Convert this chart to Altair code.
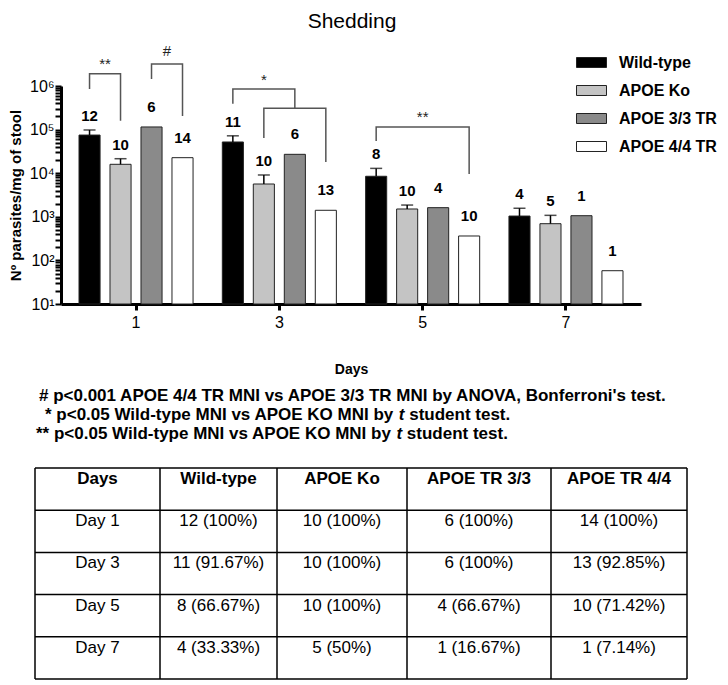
import altair as alt
import pandas as pd

FONT = "Liberation Sans, Arial, Helvetica, sans-serif"

# ---------------- data ----------------
days = ["1", "3", "5", "7"]
groups = ["Wild-type", "APOE Ko", "APOE 3/3 TR", "APOE 4/4 TR"]
group_colors = ["#000000", "#c4c4c4", "#8a8a8a", "#ffffff"]

# mean parasites / mg of stool (per day 1, 3, 5, 7)
wt_mean = [75000, 52000, 8500, 1040]
ko_mean = [16000, 5650, 1510, 695]
tr33_mean = [115000, 27100, 1620, 1060]
tr44_mean = [22700, 1410, 363, 58]
# upper end of the error bars (None = no error bar)
wt_upper = [98000, 72000, 12900, 1570]
ko_upper = [21500, 9100, 1860, 1080]
tr33_upper = [None, None, None, None]
tr44_upper = [None, None, None, None]
# number of animals shedding
n_wt = [12, 11, 8, 4]
n_ko = [10, 10, 10, 5]
n_33 = [6, 6, 4, 1]
n_44 = [14, 13, 10, 1]

y_ticks = [k * 10 ** e for e in range(1, 6) for k in range(1, 10)] + [10 ** 6]

# significance brackets: day, left bar, right bar, top, left-leg end, right-leg end
br_label = ["**", "#", "*", "", "**"]
br_day = ["1", "1", "3", "3", "5"]
br_left = ["Wild-type", "APOE 3/3 TR", "Wild-type", "APOE Ko", "Wild-type"]
br_right = ["APOE Ko", "APOE 4/4 TR", "APOE 3/3 TR", "APOE 4/4 TR", "APOE 4/4 TR"]
br_top = [1.9e6, 3.2e6, 8.5e5, 3.1e5, 1.15e5]
br_lbot = [8.5e5, 1.45e6, 3.9e5, 6.4e4, 5.5e4]
br_rbot = [1.6e5, 2.05e5, 3.1e5, 1.8e4, 9.6e3]
br_text_y = [3.2e6, 6.4e6, 1.37e6, None, 1.95e5]
br_text_at = ["Wild-type", "APOE 3/3 TR", "APOE Ko", None, "APOE Ko"]
br_text_between = [True, True, False, None, True]

footnote1 = "# p<0.001 APOE 4/4 TR MNI vs APOE 3/3 TR MNI by ANOVA, Bonferroni's test."
footnote2 = ["* p<0.05 Wild-type MNI vs APOE KO MNI by", "t", "student test."]
footnote3 = ["** p<0.05 Wild-type MNI vs APOE KO MNI by", "t", "student test."]

table_header = ["Days", "Wild-type", "APOE Ko", "APOE TR 3/3", "APOE TR 4/4"]
table_days = ["Day 1", "Day 3", "Day 5", "Day 7"]
pct_wt = ["100%", "91.67%", "66.67%", "33.33%"]
pct_ko = ["100%", "100%", "100%", "50%"]
pct_33 = ["100%", "100%", "66.67%", "16.67%"]
pct_44 = ["100%", "92.85%", "71.42%", "7.14%"]

# ---------------- tables for the library ----------------
means = [wt_mean, ko_mean, tr33_mean, tr44_mean]
uppers = [wt_upper, ko_upper, tr33_upper, tr44_upper]
counts = [n_wt, n_ko, n_33, n_44]
rows = []
for gi, g in enumerate(groups):
    for di, d in enumerate(days):
        rows.append(dict(Day=d, Group=g, mean=means[gi][di], upper=uppers[gi][di],
                         n=str(counts[gi][di])))
df = pd.DataFrame(rows)
df_err = df[df["upper"].notna()].copy()
df_noerr = df[df["upper"].isna()].copy()

brow = []
for i in range(len(br_day)):
    pts = [(br_left[i], br_lbot[i]), (br_left[i], br_top[i]),
           (br_right[i], br_top[i]), (br_right[i], br_rbot[i])]
    for k, (g, v) in enumerate(pts):
        brow.append(dict(id=i, ord=k, Day=br_day[i], Group=g, val=v))
df_br = pd.DataFrame(brow)
blab = []
for i in range(len(br_day)):
    if br_label[i]:
        blab.append(dict(Day=br_day[i], Group=br_text_at[i], val=br_text_y[i],
                         label=br_label[i], between=br_text_between[i]))
df_blab = pd.DataFrame(blab)

# ---------------- encodings ----------------
label_expr = ("datum.value==10?'10\u00b9':datum.value==100?'10\u00b2':"
              "datum.value==1000?'10\u00b3':datum.value==10000?'10\u2074':"
              "datum.value==100000?'10\u2075':datum.value==1000000?'10\u2076':''")

x_axis = alt.Axis(title="Days", labelAngle=0, labelFontSize=16, labelFont=FONT,
                  labelColor="black", tickSize=6, tickWidth=3, tickColor="black",
                  domainWidth=3, domainColor="black", titleFontSize=14,
                  titleFontWeight="bold", titleFont=FONT, titleColor="black",
                  titlePadding=32, labelPadding=4, grid=False)
y_axis = alt.Axis(title="N\u00ba parasites/mg of stool", values=y_ticks, labelExpr=label_expr,
                  tickSize=6, tickWidth=2, tickColor="black", domainWidth=3,
                  domainColor="black", labelFontSize=16, labelFont=FONT, labelPadding=1,
                  labelColor="black", titleFontSize=15, titleFontWeight="bold",
                  titleFont=FONT, titleColor="black", titlePadding=6, grid=False,
                  labelOverlap=False, labelFlush=False)
y_scale = alt.Scale(type="log", domain=[10, 1e6], nice=False)


def X():
    return alt.X("Day:N", sort=days, scale=alt.Scale(paddingInner=0.135, paddingOuter=0.091),
                 axis=x_axis)


def XO():
    return alt.XOffset("Group:N", sort=groups,
                       scale=alt.Scale(paddingInner=0.32, paddingOuter=0.16))


def Y(field):
    return alt.Y(field, type="quantitative", scale=y_scale, axis=y_axis)


color = alt.Color("Group:N", sort=groups,
                  scale=alt.Scale(domain=groups, range=group_colors),
                  legend=alt.Legend(orient="none", legendX=515, legendY=-39, title=None,
                                    symbolType="M-1,-0.333H1V0.333H-1Z", symbolSize=900,
                                    symbolStrokeColor="#222", symbolStrokeWidth=1,
                                    symbolOpacity=1, labelFont=FONT, labelFontSize=16,
                                    labelFontWeight="bold", labelColor="black",
                                    labelOffset=12, rowPadding=4))

bars = alt.Chart(df).mark_bar(stroke="#222", strokeWidth=1, opacity=1).encode(
    x=X(), xOffset=XO(), y=Y("mean"), y2=alt.datum(10), color=color)

err = alt.Chart(df_err).mark_rule(color="black", strokeWidth=1.5).encode(
    x=X(), xOffset=XO(), y=Y("mean"), y2="upper:Q")
caps = alt.Chart(df_err).mark_tick(color="black", thickness=1.5, size=12, orient="horizontal").encode(
    x=X(), xOffset=XO(), y=Y("upper"))

lab1 = alt.Chart(df_err).mark_text(font=FONT, fontSize=15, fontWeight="bold", color="black",
                                   baseline="middle", dy=-14).encode(
    x=X(), xOffset=XO(), y=Y("upper"), text="n:N")
lab2 = alt.Chart(df_noerr).mark_text(font=FONT, fontSize=15, fontWeight="bold", color="black",
                                     baseline="middle", dy=-20).encode(
    x=X(), xOffset=XO(), y=Y("mean"), text="n:N")

brackets = alt.Chart(df_br).mark_line(color="#555", strokeWidth=1.5).encode(
    x=X(), xOffset=XO(), y=Y("val"), detail="id:N", order="ord:Q")
blab_mid = alt.Chart(df_blab[df_blab["between"] == True]).mark_text(
    font=FONT, fontSize=15, color="#222", baseline="middle", dx=15.5).encode(
    x=X(), xOffset=XO(), y=Y("val"), text="label:N")
blab_on = alt.Chart(df_blab[df_blab["between"] == False]).mark_text(
    font=FONT, fontSize=15, color="#222", baseline="middle").encode(
    x=X(), xOffset=XO(), y=Y("val"), text="label:N")

plot = alt.layer(bars, err, caps, lab1, lab2, brackets, blab_mid, blab_on)

# ---------------- annotations (title, footnotes) ----------------
one = pd.DataFrame({"a": [0]})
title = alt.Chart(one).mark_text(text="Shedding", font=FONT, fontSize=21, color="black",
                                 baseline="middle", align="center").encode(
    x=alt.value(291), y=alt.value(-64))

# approximate Arial/Liberation Sans Bold advance widths (per 1000 em)
W_BOLD = {" ": 278, "*": 389, "<": 584, ".": 278, "-": 333, "'": 238, ",": 278, "/": 278,
          "#": 556, "W": 944, "M": 833, "N": 722, "I": 278, "A": 722, "P": 667, "O": 778,
          "E": 667, "K": 722, "T": 611, "R": 722, "V": 667, "B": 722,
          "p": 611, "i": 278, "l": 278, "d": 611, "t": 333, "y": 556, "e": 556, "v": 556,
          "s": 556, "b": 611, "u": 611, "n": 611, "o": 611, "f": 333, "r": 389}


def text_width(s, size):
    return sum(W_BOLD.get(ch, 556) for ch in s) * size / 1000.0


FN_SIZE = 17
fn_style = dict(font=FONT, fontSize=FN_SIZE, fontWeight="bold", color="black",
                baseline="middle", align="left")
fn_marks = [alt.Chart(one).mark_text(text=footnote1, **fn_style).encode(
    x=alt.value(-22), y=alt.value(310))]
for parts, x0, yy in [(footnote2, -16, 329), (footnote3, -25, 348)]:
    xs = x0
    for k, part in enumerate(parts):
        style = dict(fn_style)
        if k == 1:
            style["fontStyle"] = "italic"
        fn_marks.append(alt.Chart(one).mark_text(text=part, **style).encode(
            x=alt.value(xs), y=alt.value(yy)))
        xs += text_width(part + " ", FN_SIZE)

# ---------------- table ----------------
col_w = [125, 117, 130, 144, 136]
tab_left, tab_top, row_h = -26, 382, 42.2
col_edges = [tab_left]
for w in col_w:
    col_edges.append(col_edges[-1] + w)
row_edges = [tab_top + i * row_h for i in range(6)]

vlines = pd.DataFrame({"x": col_edges, "y": [row_edges[0]] * 6, "y2": [row_edges[-1]] * 6})
hlines = pd.DataFrame({"y": row_edges, "x": [col_edges[0]] * 6, "x2": [col_edges[-1]] * 6})

cells = []
body_cols = [table_days,
             [f"{n} ({p})" for n, p in zip(n_wt, pct_wt)],
             [f"{n} ({p})" for n, p in zip(n_ko, pct_ko)],
             [f"{n} ({p})" for n, p in zip(n_33, pct_33)],
             [f"{n} ({p})" for n, p in zip(n_44, pct_44)]]
for c in range(5):
    cx = (col_edges[c] + col_edges[c + 1]) / 2
    cells.append(dict(x=cx, y=row_edges[0] + 11, t=table_header[c], head=True))
    for r in range(4):
        cells.append(dict(x=cx, y=row_edges[r + 1] + 11, t=body_cols[c][r], head=False))
cells = pd.DataFrame(cells)

tv = alt.Chart(vlines).mark_rule(color="black", strokeWidth=1.5).encode(
    x=alt.X("x:Q", scale=None), y=alt.Y("y:Q", scale=None), y2="y2:Q")
th = alt.Chart(hlines).mark_rule(color="black", strokeWidth=1.5).encode(
    y=alt.Y("y:Q", scale=None), x=alt.X("x:Q", scale=None), x2="x2:Q")
ttxt_h = alt.Chart(cells[cells["head"]]).mark_text(
    font=FONT, fontSize=17, fontWeight="bold", color="black", baseline="middle").encode(
    x=alt.X("x:Q", scale=None), y=alt.Y("y:Q", scale=None), text="t:N")
ttxt_b = alt.Chart(cells[~cells["head"]]).mark_text(
    font=FONT, fontSize=17, color="black", baseline="middle").encode(
    x=alt.X("x:Q", scale=None), y=alt.Y("y:Q", scale=None), text="t:N")

annot = alt.layer(title, *fn_marks, tv, th, ttxt_h, ttxt_b)

chart = alt.layer(plot, annot).properties(
    width=580, height=218,
    padding={"left": 0, "top": 3, "right": 0, "bottom": 0},
).configure(font=FONT).configure_view(stroke=None)

chart.save("out.html", embed_options={"renderer": "svg", "actions": False})
